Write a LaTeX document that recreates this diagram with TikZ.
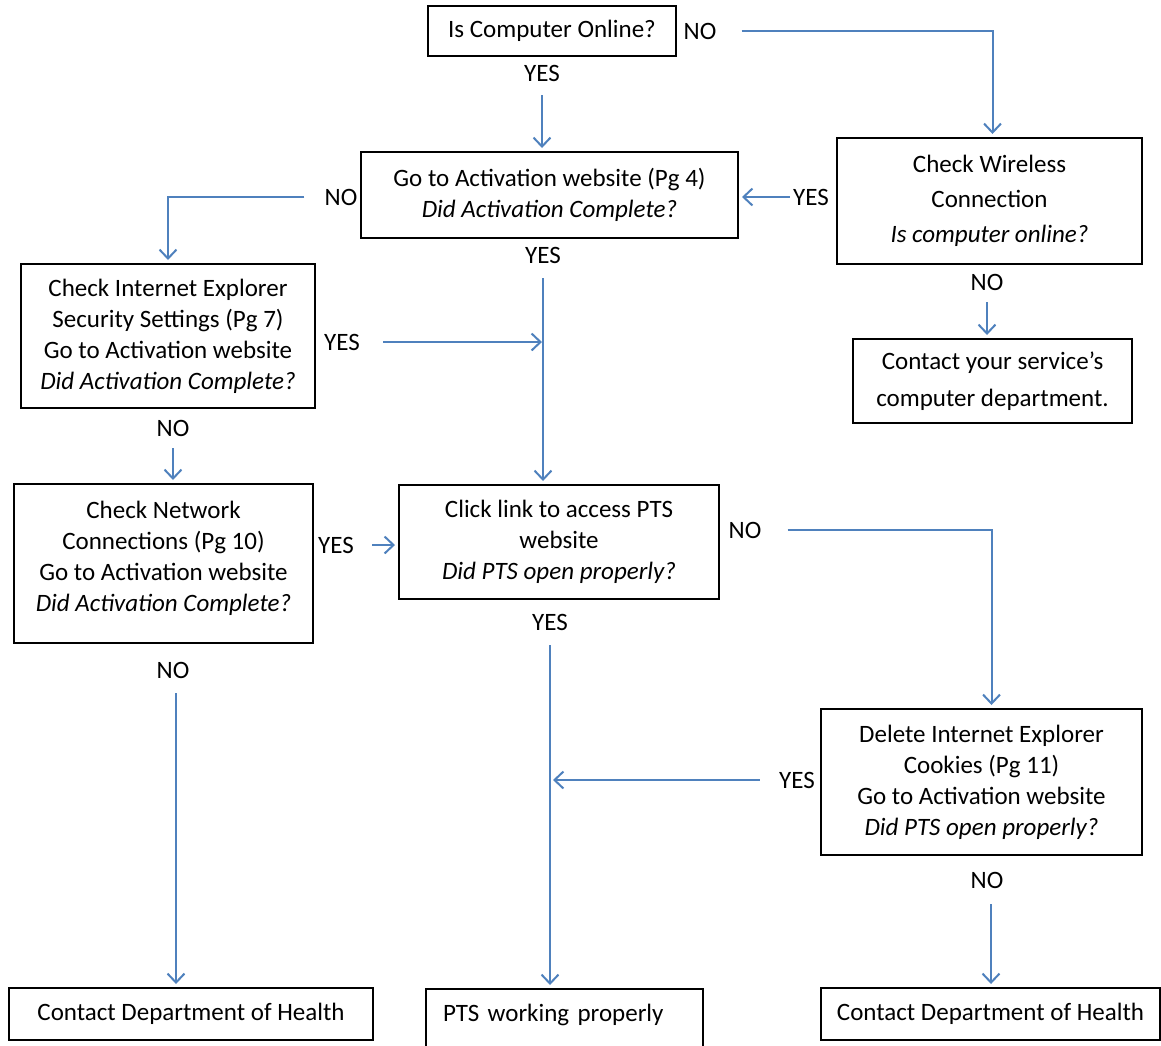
\documentclass[tikz,border=0pt]{standalone}
\usepackage{fontspec}
\setmainfont{Carlito}
\usetikzlibrary{arrows.meta, positioning}
\definecolor{flowblue}{RGB}{79,129,189}
\tikzset{
  box/.style={draw, line width=2pt, align=center, inner sep=0pt,
    font=\fontsize{25}{31}\selectfont},
  lbl/.style={inner sep=1pt, font=\fontsize{25}{28}\selectfont},
  flow/.style={draw=flowblue, line width=2pt, shorten >=3pt,
    -{Straight Barb[length=9pt, width=17pt, line width=2pt]}},
  link/.style={draw=flowblue, line width=2pt}
}

\begin{document}
\begin{tikzpicture}[x=1pt, y=-1pt]
\useasboundingbox (0,0) rectangle (1161,1045);

% boxes
\node[box, minimum width=248pt, minimum height=50pt] (online) at (552,31) {Is Computer Online?};
\node[box, minimum width=377pt, minimum height=86pt] (act) at (549.5,195)
  {Go to Activation website (Pg 4)\\ \textit{Did Activation Complete?}};
\node[box, minimum width=305pt, minimum height=126pt] (wireless) at (989.5,201)
  {Check Wireless\\[4pt] Connection\\[4pt] \textit{Is computer online?}};
\node[box, minimum width=279pt, minimum height=84pt] (service) at (992.5,381)
  {Contact your service’s\\[6pt] computer department.};
\node[box, minimum width=294pt, minimum height=144pt] (ie) at (168,336)
  {Check Internet Explorer\\ Security Settings (Pg 7)\\ Go to Activation website\\ \textit{Did Activation Complete?}};
\node[box, minimum width=299pt, minimum height=159pt] (net) at (163.5,563.5)
  {Check Network\\ Connections (Pg 10)\\ Go to Activation website\\ \textit{Did Activation Complete?}\\[-17pt]};
\node[box, minimum width=320pt, minimum height=114pt] (click) at (559,542)
  {Click link to access PTS\\ website\\ \textit{Did PTS open properly?}};
\node[box, minimum width=321pt, minimum height=146pt] (cookies) at (981.5,782)
  {Delete Internet Explorer\\ Cookies (Pg 11)\\ Go to Activation website\\ \textit{Did PTS open properly?}};
\node[box, minimum width=364pt, minimum height=52pt] (health1) at (191,1014) {Contact Department of Health};
\node[box, anchor=north west, text width=243pt, align=left, inner xsep=17pt, inner ysep=15pt,
  text depth=40pt] (pts) at (425,988) {PTS working properly};
\node[box, minimum width=339pt, minimum height=52pt] (health2) at (990.5,1014) {Contact Department of Health};

% answers
\node[lbl] (no1) at (700,31) {NO};
\node[lbl] (yes1) at (542,73) {YES};
\node[lbl] (no2) at (341,197) {NO};
\node[lbl] (yes2) at (811,197) {YES};
\node[lbl] (no3) at (987,282) {NO};
\node[lbl] (yes3) at (543,255) {YES};
\node[lbl] (yes4) at (342,342) {YES};
\node[lbl] (no4) at (173,428) {NO};
\node[lbl] (yes5) at (336,545) {YES};
\node[lbl] (no5) at (745,530) {NO};
\node[lbl] (yes6) at (550,622) {YES};
\node[lbl] (no6) at (173,670) {NO};
\node[lbl] (yes7) at (797,780) {YES};
\node[lbl] (no7) at (987,880) {NO};

\coordinate (j1) at (543,342);
\coordinate (j2) at (552,778);

% connectors
\draw[flow, shorten <=24pt] (no1.east) -| ([xshift=3pt]wireless.north);
\draw[flow, shorten <=13pt] (yes1.south) -- (yes1.south |- act.north);
\draw[flow, shorten <=19pt] (no2.west) -| (ie.north);
\draw[flow, shorten <=2pt] (yes2.west) -- (yes2.west -| act.east);
\draw[flow, shorten <=11pt] (no3.south) -- (no3.south |- service.north);
\draw[flow, shorten <=14pt] (yes3.south) -- (yes3.south |- click.north);
\draw[flow, shorten <=22pt, shorten >=1pt] (yes4.east) -- (yes4.east -| j1);
\draw[flow, shorten <=11pt] (no4.south) -- (no4.south |- net.north);
\draw[flow, shorten <=17pt] (yes5.east) -- (yes5.east -| click.west);
\draw[flow, shorten <=25pt] (no5.east) -| ([xshift=10pt]cookies.north);
\draw[flow, shorten <=14pt] (yes6.south) -- (yes6.south |- pts.north);
\draw[flow, shorten <=14pt] ([xshift=3pt]no6.south) -- ([xshift=3pt]no6.south |- health1.north);
\draw[flow, shorten <=18pt, shorten >=1pt] (yes7.west) -- (yes7.west -| j2);
\draw[flow, shorten <=15pt] ([xshift=4pt]no7.south) -- ([xshift=4pt]no7.south |- health2.north);
\end{tikzpicture}
\end{document}
